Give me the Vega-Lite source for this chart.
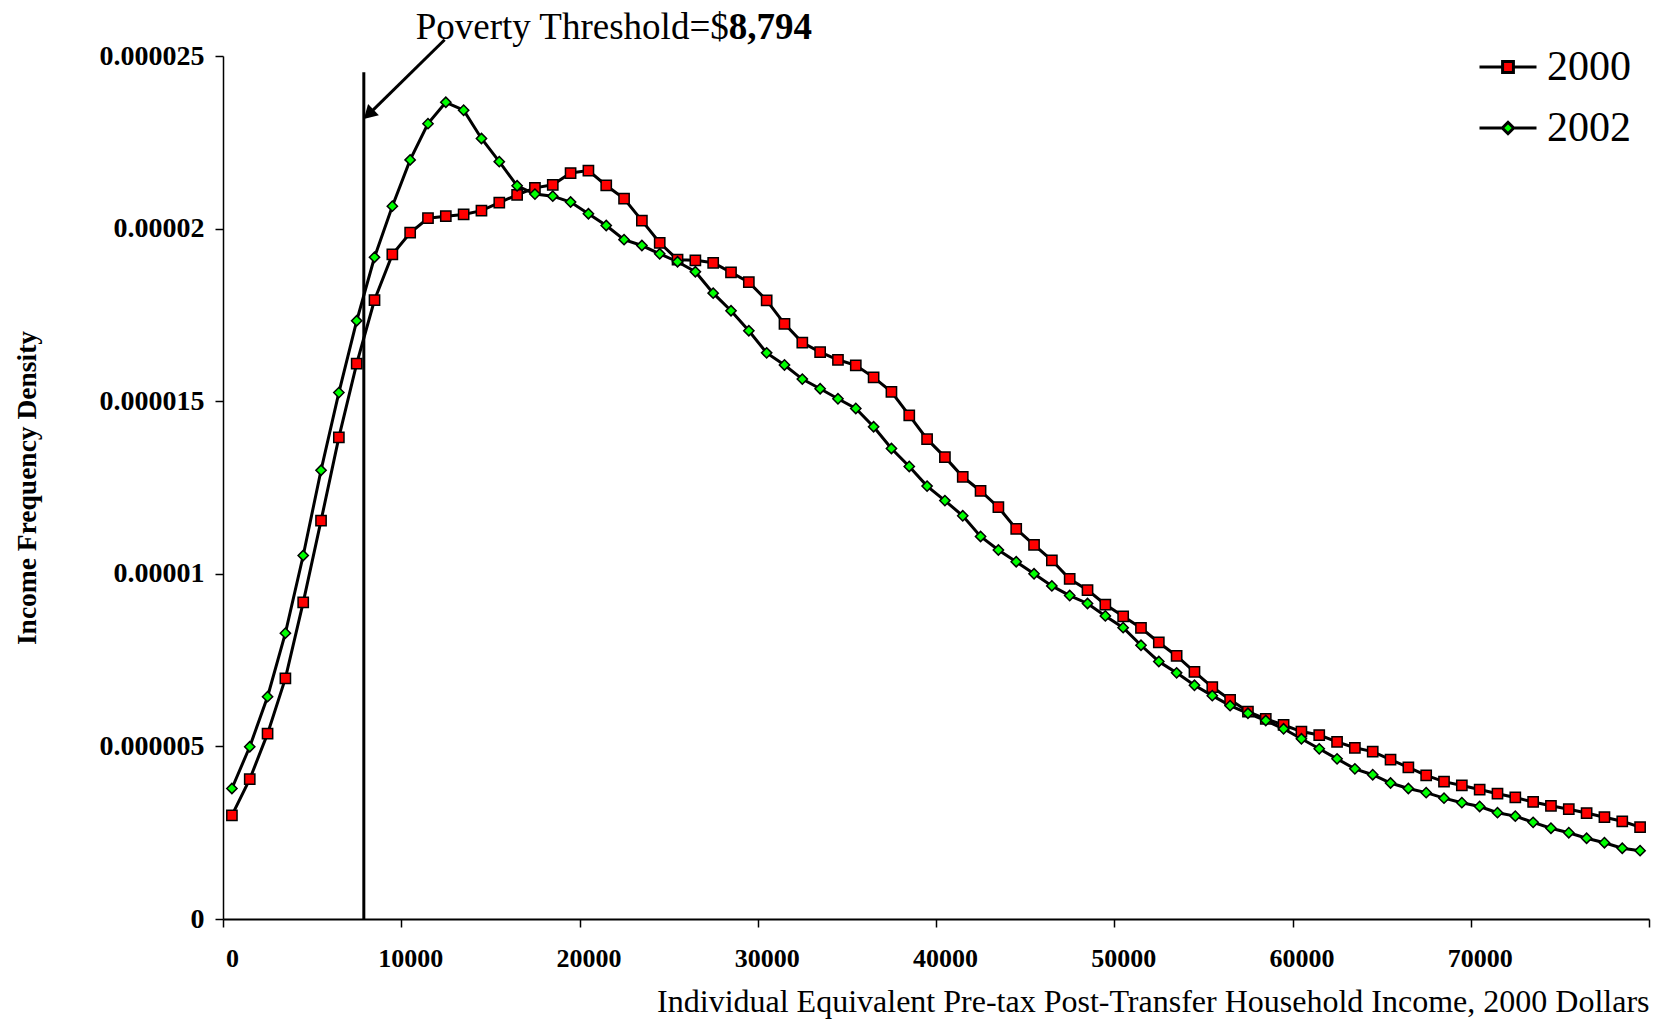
{
  "$schema": "https://vega.github.io/schema/vega-lite/v6.json",
  "width": 1426,
  "height": 863,
  "autosize": {"type": "none"},
  "padding": {"left": 223, "top": 56, "right": 19, "bottom": 101},
  "background": "white",
  "config": {
    "view": {"stroke": null},
    "font": "Liberation Serif",
    "axis": {"grid": false, "domainColor": "black", "tickColor": "black", "labelColor": "black", "titleColor": "black", "labelFont": "Liberation Serif", "titleFont": "Liberation Serif"},
    "legend": {"symbolStrokeWidth": 3, "symbolStrokeColor": "black"}
  },
  "datasets": {
    "density": [
      {"income": 500, "density": 3.00e-6, "year": "2000"},
      {"income": 1500, "density": 4.05e-6, "year": "2000"},
      {"income": 2500, "density": 5.37e-6, "year": "2000"},
      {"income": 3500, "density": 6.97e-6, "year": "2000"},
      {"income": 4500, "density": 9.17e-6, "year": "2000"},
      {"income": 5500, "density": 11.54e-6, "year": "2000"},
      {"income": 6500, "density": 13.95e-6, "year": "2000"},
      {"income": 7500, "density": 16.09e-6, "year": "2000"},
      {"income": 8500, "density": 17.93e-6, "year": "2000"},
      {"income": 9500, "density": 19.25e-6, "year": "2000"},
      {"income": 10500, "density": 19.88e-6, "year": "2000"},
      {"income": 11500, "density": 20.30e-6, "year": "2000"},
      {"income": 12500, "density": 20.36e-6, "year": "2000"},
      {"income": 13500, "density": 20.41e-6, "year": "2000"},
      {"income": 14500, "density": 20.52e-6, "year": "2000"},
      {"income": 15500, "density": 20.75e-6, "year": "2000"},
      {"income": 16500, "density": 20.98e-6, "year": "2000"},
      {"income": 17500, "density": 21.18e-6, "year": "2000"},
      {"income": 18500, "density": 21.27e-6, "year": "2000"},
      {"income": 19500, "density": 21.61e-6, "year": "2000"},
      {"income": 20500, "density": 21.68e-6, "year": "2000"},
      {"income": 21500, "density": 21.25e-6, "year": "2000"},
      {"income": 22500, "density": 20.87e-6, "year": "2000"},
      {"income": 23500, "density": 20.23e-6, "year": "2000"},
      {"income": 24500, "density": 19.59e-6, "year": "2000"},
      {"income": 25500, "density": 19.10e-6, "year": "2000"},
      {"income": 26500, "density": 19.08e-6, "year": "2000"},
      {"income": 27500, "density": 19.01e-6, "year": "2000"},
      {"income": 28500, "density": 18.73e-6, "year": "2000"},
      {"income": 29500, "density": 18.45e-6, "year": "2000"},
      {"income": 30500, "density": 17.92e-6, "year": "2000"},
      {"income": 31500, "density": 17.24e-6, "year": "2000"},
      {"income": 32500, "density": 16.70e-6, "year": "2000"},
      {"income": 33500, "density": 16.42e-6, "year": "2000"},
      {"income": 34500, "density": 16.20e-6, "year": "2000"},
      {"income": 35500, "density": 16.04e-6, "year": "2000"},
      {"income": 36500, "density": 15.69e-6, "year": "2000"},
      {"income": 37500, "density": 15.27e-6, "year": "2000"},
      {"income": 38500, "density": 14.59e-6, "year": "2000"},
      {"income": 39500, "density": 13.90e-6, "year": "2000"},
      {"income": 40500, "density": 13.38e-6, "year": "2000"},
      {"income": 41500, "density": 12.81e-6, "year": "2000"},
      {"income": 42500, "density": 12.40e-6, "year": "2000"},
      {"income": 43500, "density": 11.93e-6, "year": "2000"},
      {"income": 44500, "density": 11.30e-6, "year": "2000"},
      {"income": 45500, "density": 10.84e-6, "year": "2000"},
      {"income": 46500, "density": 10.39e-6, "year": "2000"},
      {"income": 47500, "density": 9.85e-6, "year": "2000"},
      {"income": 48500, "density": 9.53e-6, "year": "2000"},
      {"income": 49500, "density": 9.11e-6, "year": "2000"},
      {"income": 50500, "density": 8.77e-6, "year": "2000"},
      {"income": 51500, "density": 8.43e-6, "year": "2000"},
      {"income": 52500, "density": 8.01e-6, "year": "2000"},
      {"income": 53500, "density": 7.62e-6, "year": "2000"},
      {"income": 54500, "density": 7.16e-6, "year": "2000"},
      {"income": 55500, "density": 6.72e-6, "year": "2000"},
      {"income": 56500, "density": 6.35e-6, "year": "2000"},
      {"income": 57500, "density": 6.01e-6, "year": "2000"},
      {"income": 58500, "density": 5.80e-6, "year": "2000"},
      {"income": 59500, "density": 5.62e-6, "year": "2000"},
      {"income": 60500, "density": 5.43e-6, "year": "2000"},
      {"income": 61500, "density": 5.33e-6, "year": "2000"},
      {"income": 62500, "density": 5.13e-6, "year": "2000"},
      {"income": 63500, "density": 4.96e-6, "year": "2000"},
      {"income": 64500, "density": 4.85e-6, "year": "2000"},
      {"income": 65500, "density": 4.62e-6, "year": "2000"},
      {"income": 66500, "density": 4.39e-6, "year": "2000"},
      {"income": 67500, "density": 4.16e-6, "year": "2000"},
      {"income": 68500, "density": 3.98e-6, "year": "2000"},
      {"income": 69500, "density": 3.87e-6, "year": "2000"},
      {"income": 70500, "density": 3.75e-6, "year": "2000"},
      {"income": 71500, "density": 3.63e-6, "year": "2000"},
      {"income": 72500, "density": 3.52e-6, "year": "2000"},
      {"income": 73500, "density": 3.39e-6, "year": "2000"},
      {"income": 74500, "density": 3.28e-6, "year": "2000"},
      {"income": 75500, "density": 3.18e-6, "year": "2000"},
      {"income": 76500, "density": 3.07e-6, "year": "2000"},
      {"income": 77500, "density": 2.95e-6, "year": "2000"},
      {"income": 78500, "density": 2.83e-6, "year": "2000"},
      {"income": 79500, "density": 2.66e-6, "year": "2000"},
      {"income": 500, "density": 3.78e-6, "year": "2002"},
      {"income": 1500, "density": 4.99e-6, "year": "2002"},
      {"income": 2500, "density": 6.44e-6, "year": "2002"},
      {"income": 3500, "density": 8.28e-6, "year": "2002"},
      {"income": 4500, "density": 10.53e-6, "year": "2002"},
      {"income": 5500, "density": 13.00e-6, "year": "2002"},
      {"income": 6500, "density": 15.25e-6, "year": "2002"},
      {"income": 7500, "density": 17.33e-6, "year": "2002"},
      {"income": 8500, "density": 19.17e-6, "year": "2002"},
      {"income": 9500, "density": 20.65e-6, "year": "2002"},
      {"income": 10500, "density": 21.99e-6, "year": "2002"},
      {"income": 11500, "density": 23.04e-6, "year": "2002"},
      {"income": 12500, "density": 23.66e-6, "year": "2002"},
      {"income": 13500, "density": 23.43e-6, "year": "2002"},
      {"income": 14500, "density": 22.61e-6, "year": "2002"},
      {"income": 15500, "density": 21.94e-6, "year": "2002"},
      {"income": 16500, "density": 21.24e-6, "year": "2002"},
      {"income": 17500, "density": 21.00e-6, "year": "2002"},
      {"income": 18500, "density": 20.94e-6, "year": "2002"},
      {"income": 19500, "density": 20.77e-6, "year": "2002"},
      {"income": 20500, "density": 20.43e-6, "year": "2002"},
      {"income": 21500, "density": 20.09e-6, "year": "2002"},
      {"income": 22500, "density": 19.68e-6, "year": "2002"},
      {"income": 23500, "density": 19.51e-6, "year": "2002"},
      {"income": 24500, "density": 19.27e-6, "year": "2002"},
      {"income": 25500, "density": 19.04e-6, "year": "2002"},
      {"income": 26500, "density": 18.75e-6, "year": "2002"},
      {"income": 27500, "density": 18.13e-6, "year": "2002"},
      {"income": 28500, "density": 17.62e-6, "year": "2002"},
      {"income": 29500, "density": 17.04e-6, "year": "2002"},
      {"income": 30500, "density": 16.40e-6, "year": "2002"},
      {"income": 31500, "density": 16.05e-6, "year": "2002"},
      {"income": 32500, "density": 15.64e-6, "year": "2002"},
      {"income": 33500, "density": 15.36e-6, "year": "2002"},
      {"income": 34500, "density": 15.07e-6, "year": "2002"},
      {"income": 35500, "density": 14.79e-6, "year": "2002"},
      {"income": 36500, "density": 14.26e-6, "year": "2002"},
      {"income": 37500, "density": 13.63e-6, "year": "2002"},
      {"income": 38500, "density": 13.11e-6, "year": "2002"},
      {"income": 39500, "density": 12.54e-6, "year": "2002"},
      {"income": 40500, "density": 12.12e-6, "year": "2002"},
      {"income": 41500, "density": 11.68e-6, "year": "2002"},
      {"income": 42500, "density": 11.08e-6, "year": "2002"},
      {"income": 43500, "density": 10.69e-6, "year": "2002"},
      {"income": 44500, "density": 10.35e-6, "year": "2002"},
      {"income": 45500, "density": 10.00e-6, "year": "2002"},
      {"income": 46500, "density": 9.65e-6, "year": "2002"},
      {"income": 47500, "density": 9.37e-6, "year": "2002"},
      {"income": 48500, "density": 9.14e-6, "year": "2002"},
      {"income": 49500, "density": 8.78e-6, "year": "2002"},
      {"income": 50500, "density": 8.44e-6, "year": "2002"},
      {"income": 51500, "density": 7.93e-6, "year": "2002"},
      {"income": 52500, "density": 7.46e-6, "year": "2002"},
      {"income": 53500, "density": 7.13e-6, "year": "2002"},
      {"income": 54500, "density": 6.77e-6, "year": "2002"},
      {"income": 55500, "density": 6.47e-6, "year": "2002"},
      {"income": 56500, "density": 6.18e-6, "year": "2002"},
      {"income": 57500, "density": 5.96e-6, "year": "2002"},
      {"income": 58500, "density": 5.75e-6, "year": "2002"},
      {"income": 59500, "density": 5.51e-6, "year": "2002"},
      {"income": 60500, "density": 5.22e-6, "year": "2002"},
      {"income": 61500, "density": 4.93e-6, "year": "2002"},
      {"income": 62500, "density": 4.64e-6, "year": "2002"},
      {"income": 63500, "density": 4.35e-6, "year": "2002"},
      {"income": 64500, "density": 4.18e-6, "year": "2002"},
      {"income": 65500, "density": 3.94e-6, "year": "2002"},
      {"income": 66500, "density": 3.78e-6, "year": "2002"},
      {"income": 67500, "density": 3.66e-6, "year": "2002"},
      {"income": 68500, "density": 3.50e-6, "year": "2002"},
      {"income": 69500, "density": 3.37e-6, "year": "2002"},
      {"income": 70500, "density": 3.26e-6, "year": "2002"},
      {"income": 71500, "density": 3.08e-6, "year": "2002"},
      {"income": 72500, "density": 2.98e-6, "year": "2002"},
      {"income": 73500, "density": 2.80e-6, "year": "2002"},
      {"income": 74500, "density": 2.63e-6, "year": "2002"},
      {"income": 75500, "density": 2.50e-6, "year": "2002"},
      {"income": 76500, "density": 2.34e-6, "year": "2002"},
      {"income": 77500, "density": 2.21e-6, "year": "2002"},
      {"income": 78500, "density": 2.05e-6, "year": "2002"},
      {"income": 79500, "density": 1.98e-6, "year": "2002"}
    ]
  },
  "encoding": {
    "x": {
      "field": "income", "type": "quantitative",
      "scale": {"domain": [0, 80000], "nice": false, "zero": false},
      "axis": {
        "values": [0, 10000, 20000, 30000, 40000, 50000, 60000, 70000, 80000],
        "format": "d",
        "labelExpr": "datum.value == 80000 ? '' : datum.label",
        "labelFontSize": 26, "labelFontWeight": "bold", "labelPadding": 18, "labelOffset": 9, "labelFlush": false,
        "tickSize": 8, "tickWidth": 1.5, "domainWidth": 2,
        "title": "Individual Equivalent Pre-tax Post-Transfer Household Income, 2000 Dollars",
        "titleFontSize": 32, "titleFontWeight": "normal", "titleAnchor": "end", "titlePadding": 15
      }
    },
    "y": {
      "field": "density", "type": "quantitative",
      "scale": {"domain": [0, 0.000025], "nice": false, "zero": true},
      "axis": {
        "values": [0, 0.000005, 0.00001, 0.000015, 0.00002, 0.000025],
        "format": "~f",
        "labelFontSize": 28, "labelFontWeight": "bold", "labelPadding": 11,
        "tickSize": 8, "tickWidth": 1.5, "domainWidth": 1.5,
        "title": "Income Frequency Density",
        "titleFontSize": 27.5, "titleFontWeight": "bold", "titlePadding": 58
      }
    }
  },
  "layer": [
    {
      "data": {"values": [{"income": 7900, "density": 0, "density2": 0.00002453}]},
      "mark": {"type": "rule", "color": "black", "strokeWidth": 3},
      "encoding": {"y2": {"field": "density2"}}
    },
    {
      "data": {"values": [{"income": 12435, "density": 0.00002547, "income2": 8171, "density2": 0.00002331}]},
      "mark": {"type": "rule", "color": "black", "strokeWidth": 3},
      "encoding": {"x2": {"field": "income2"}, "y2": {"field": "density2"}}
    },
    {
      "data": {"values": [{"income": 8171, "density": 0.00002331}]},
      "mark": {"type": "point", "shape": "triangle-up", "angle": 226, "size": 240, "filled": true, "color": "black", "opacity": 1}
    },
    {
      "data": {"values": [{"income": 28373, "density": 0.0000255, "label": "Poverty Threshold=$"}]},
      "mark": {"type": "text", "align": "right", "baseline": "alphabetic", "font": "Liberation Serif", "fontSize": 37, "color": "black"},
      "encoding": {"text": {"field": "label"}}
    },
    {
      "data": {"values": [{"income": 28373, "density": 0.0000255, "label": "8,794"}]},
      "mark": {"type": "text", "align": "left", "baseline": "alphabetic", "font": "Liberation Serif", "fontSize": 37, "fontWeight": "bold", "color": "black"},
      "encoding": {"text": {"field": "label"}}
    },
    {
      "data": {"name": "density"},
      "mark": {"type": "line", "color": "black", "strokeWidth": 3},
      "encoding": {"detail": {"field": "year", "type": "nominal"}}
    },
    {
      "data": {"name": "density"},
      "mark": {"type": "point", "filled": true, "stroke": "black", "strokeWidth": 1.5, "size": 105, "opacity": 1},
      "encoding": {
        "shape": {"field": "year", "type": "nominal", "scale": {"domain": ["2000", "2002"], "range": ["square", "diamond"]}, "legend": null},
        "fill": {"field": "year", "type": "nominal", "scale": {"domain": ["2000", "2002"], "range": ["#ff0000", "#00ff00"]}, "legend": null}
      }
    },
    {
      "data": {"values": []},
      "mark": {"type": "point", "filled": true, "strokeWidth": 3, "size": 3249, "opacity": 1},
      "encoding": {
        "shape": {
          "field": "year", "type": "nominal",
          "scale": {"domain": ["2000", "2002"], "range": ["M-1,0H-0.19M0.19,0H1M-0.19,-0.19H0.19V0.19H-0.19Z", "M-1,0H-0.2M0.2,0H1M-0.2,0L0,-0.2L0.2,0L0,0.2Z"]},
          "legend": {"title": null, "orient": "none", "legendX": 1255, "legendY": -19, "padding": 0, "symbolSize": 3249, "symbolStrokeColor": "black", "symbolStrokeWidth": 3, "labelFontSize": 42, "labelFont": "Liberation Serif", "labelColor": "black", "labelOffset": 9, "rowPadding": 10}
        },
        "fill": {
          "field": "year", "type": "nominal",
          "scale": {"domain": ["2000", "2002"], "range": ["#ff0000", "#00ff00"]},
          "legend": {"title": null, "orient": "none", "legendX": 1255, "legendY": -19, "padding": 0, "symbolSize": 3249, "symbolStrokeColor": "black", "symbolStrokeWidth": 3, "labelFontSize": 42, "labelFont": "Liberation Serif", "labelColor": "black", "labelOffset": 9, "rowPadding": 10}
        },
        "stroke": {
          "field": "year", "type": "nominal",
          "scale": {"domain": ["2000", "2002"], "range": ["black", "black"]},
          "legend": {"title": null, "orient": "none", "legendX": 1255, "legendY": -19, "padding": 0, "symbolSize": 3249, "symbolStrokeColor": "black", "symbolStrokeWidth": 3, "labelFontSize": 42, "labelFont": "Liberation Serif", "labelColor": "black", "labelOffset": 9, "rowPadding": 10}
        }
      }
    }
  ],
  "resolve": {"scale": {"shape": "independent", "fill": "independent", "stroke": "independent"}}
}
